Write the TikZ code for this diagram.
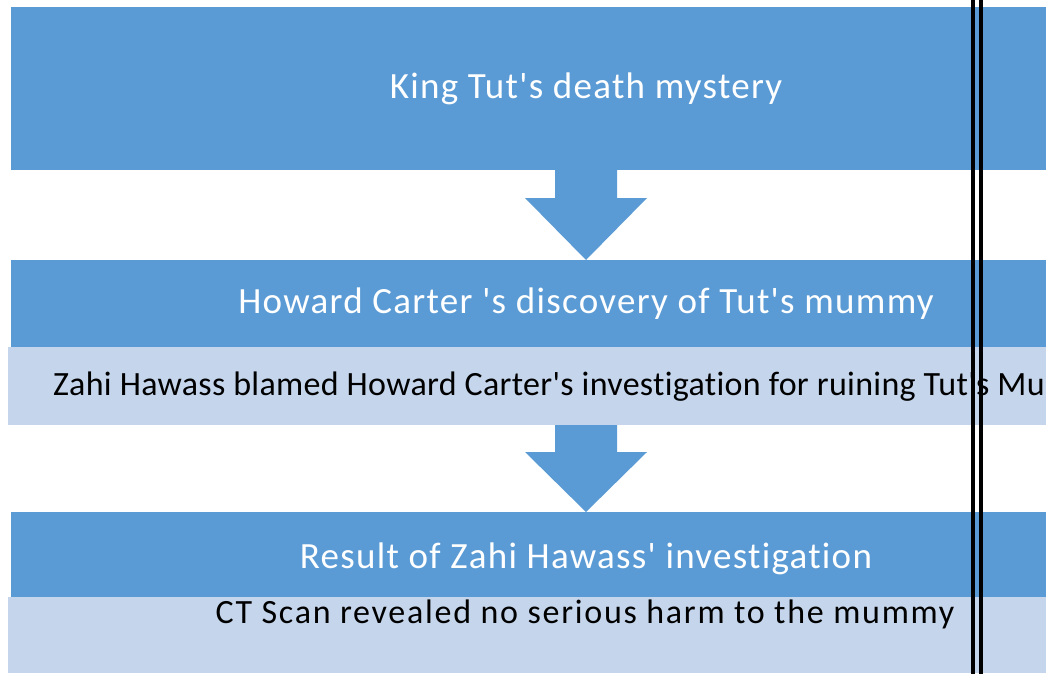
\documentclass[tikz,border=0pt]{standalone}
\usepackage{fontspec}
\setmainfont{Carlito}[Ligatures={TeXOff,CommonOff}]
\newfontfamily\hdrfont{Carlito}[Ligatures={TeXOff,CommonOff},LetterSpace=3.5]
\newfontfamily\bodyfont{Carlito}[Ligatures={TeXOff,CommonOff},LetterSpace=5.1]
\newfontfamily\notefont{Carlito}[Ligatures={TeXOff,CommonOff},LetterSpace=0.9]
\definecolor{hdrblue}{HTML}{5B9BD5}
\definecolor{paleblue}{HTML}{C5D6EC}
\begin{document}
\begin{tikzpicture}[x=1pt,y=-1pt,
  hdr/.style={fill=hdrblue,draw=none},
  body/.style={fill=paleblue,draw=none},
  hdrtext/.style={text=white,font=\hdrfont\fontsize{37}{44}\selectfont,inner sep=0pt,anchor=base},
  bodytext/.style={text=black,font=\bodyfont\fontsize{34}{40}\selectfont,inner sep=0pt,anchor=base},
  notetext/.style={text=black,font=\notefont\fontsize{34}{40}\selectfont,inner sep=0pt,anchor=base west},
  downarrow/.style={fill=hdrblue,draw=none},
  rule/.style={fill=black,draw=none}]
\useasboundingbox (0,0) rectangle (1046,674);
\clip (0,0) rectangle (1046,674);
% first stage
\path[hdr] (11,7) rectangle (1060,170);
\node[hdrtext] (t1) at (586,99) {King Tut's death mystery};
% arrow 1
\path[downarrow] (555,170) -- (617,170) -- (617,198) -- (647,198) -- (586,260) -- (525,198) -- (555,198) -- cycle;
% second stage
\path[hdr] (11,260) rectangle (1060,347);
\path[body] (8,347) rectangle (1060,425);
\node[hdrtext] (t2) at (586,313) {Howard Carter 's discovery of Tut's mummy};
\node[notetext] (b2) at (53,395) {Zahi Hawass blamed Howard Carter's investigation for ruining Tut's Mummy};
% arrow 2
\path[downarrow] (555,425) -- (617,425) -- (617,452) -- (647,452) -- (586,512) -- (525,452) -- (555,452) -- cycle;
% third stage
\path[hdr] (11,512) rectangle (1060,597);
\path[body] (8,597) rectangle (1060,673);
\node[hdrtext] (t3) at (586,568) {Result of Zahi Hawass' investigation};
\node[bodytext] (b3) at (585,623) {CT Scan revealed no serious harm to the mummy};
% double vertical rule
\path[rule] (971,0) rectangle (975,674);
\path[rule] (979,0) rectangle (982.5,674);
\end{tikzpicture}
\end{document}
